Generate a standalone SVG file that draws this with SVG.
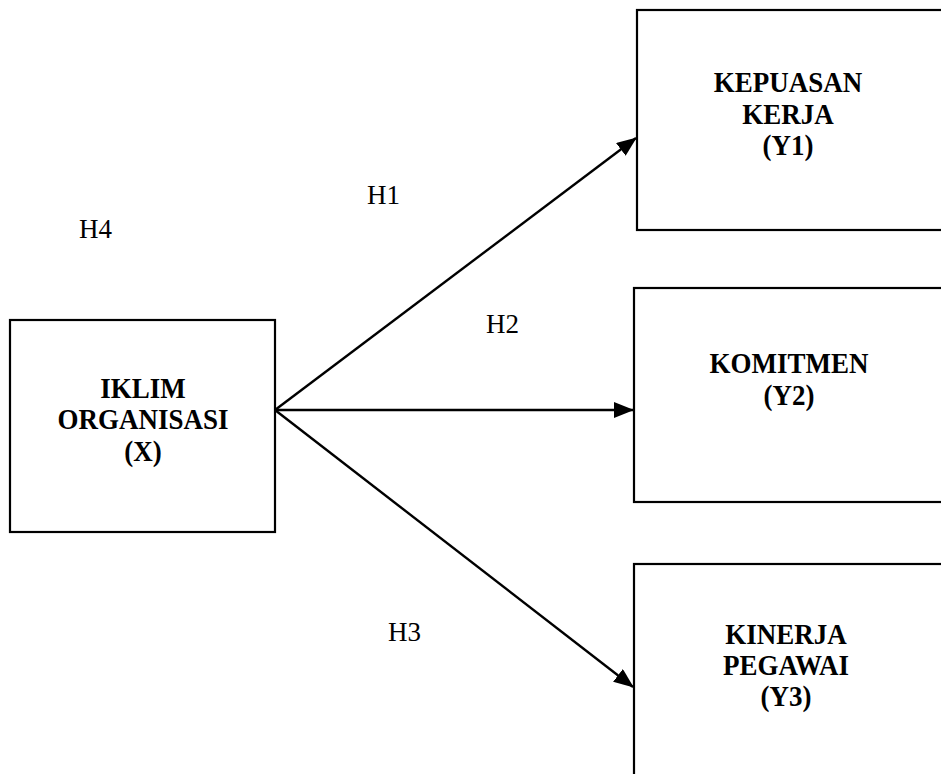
<svg xmlns="http://www.w3.org/2000/svg" width="941" height="774" viewBox="0 0 941 774">
<style>
.box{fill:#fff;stroke:#000;stroke-width:2.2}
.t{font-family:"Liberation Serif","Times New Roman",serif;font-weight:bold;font-size:27px;text-anchor:middle;fill:#000}
.h{font-family:"Liberation Serif","Times New Roman",serif;font-size:27px;fill:#000}
.c{stroke:#000;stroke-width:2.4;fill:none;marker-end:url(#ah)}
</style>
<defs>
<marker id="ah" markerWidth="20" markerHeight="16" refX="19" refY="8" orient="auto" markerUnits="userSpaceOnUse" viewBox="0 0 20 16">
<path d="M0,0 L20,8 L0,16 Z" fill="#000"/>
</marker>
</defs>
<rect width="941" height="774" fill="#fff"/>
<g id="connectors">
<line class="c" x1="275" y1="410" x2="636" y2="138"/>
<line class="c" x1="275" y1="410" x2="633" y2="410"/>
<line class="c" x1="275" y1="410" x2="633" y2="687"/>
</g>
<g id="x">
<rect class="box" x="10" y="320" width="265" height="212"/>
<text class="t" transform="translate(143 398) scale(1 1.12)">IKLIM</text>
<text class="t" transform="translate(143 429) scale(1 1.12)">ORGANISASI</text>
<text class="t" transform="translate(143 461) scale(1 1.12)">(X)</text>
</g>
<g id="y1">
<rect class="box" x="637" y="10" width="320" height="220"/>
<text class="t" transform="translate(788 92) scale(1 1.12)">KEPUASAN</text>
<text class="t" transform="translate(788 124) scale(1 1.12)">KERJA</text>
<text class="t" transform="translate(788 155) scale(1 1.12)">(Y1)</text>
</g>
<g id="y2">
<rect class="box" x="634" y="288" width="320" height="214"/>
<text class="t" transform="translate(789 373) scale(1 1.12)">KOMITMEN</text>
<text class="t" transform="translate(789 405) scale(1 1.12)">(Y2)</text>
</g>
<g id="y3">
<rect class="box" x="634" y="564" width="320" height="230"/>
<text class="t" transform="translate(786 644) scale(1 1.12)">KINERJA</text>
<text class="t" transform="translate(786 675) scale(1 1.12)">PEGAWAI</text>
<text class="t" transform="translate(786 706) scale(1 1.12)">(Y3)</text>
</g>
<g id="labels">
<text class="h" x="79" y="238">H4</text>
<text class="h" x="367" y="204">H1</text>
<text class="h" x="486" y="333">H2</text>
<text class="h" x="388" y="641">H3</text>
</g>
</svg>
